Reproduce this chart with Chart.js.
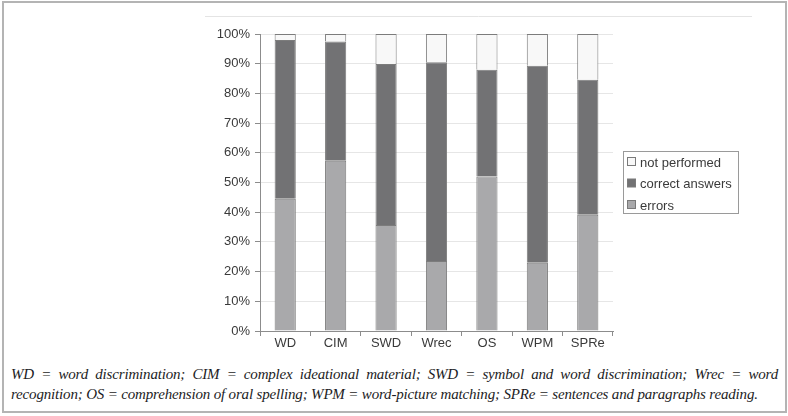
<!DOCTYPE html>
<html>
<head>
<meta charset="utf-8">
<script src="https://cdn.jsdelivr.net/npm/chart.js@4/dist/chart.umd.min.js"></script>
<style>
  html, body { margin: 0; padding: 0; background: #fff; }
  #wrap { position: relative; width: 788px; height: 416px; overflow: hidden; }
  #frame { position: absolute; left: 2px; top: 1px; width: 781px; height: 408px; border: 2px solid #b4b4b4; }
  #c { position: absolute; left: 0; top: 0; }
  #caption { position: absolute; left: 11px; top: 364px; width: 767px;
    font-family: 'Liberation Serif', 'Times New Roman', serif; font-style: italic;
    font-size: 15px; line-height: 20px; color: #1c1c24; letter-spacing: -0.17px; }
  #caption .l1 { text-align: justify; text-align-last: justify; }
  #caption .l2 { white-space: nowrap; }
</style>
</head>
<body>
<div id="wrap">
  <div id="frame"></div>
  <canvas id="c" width="788" height="350"></canvas>
  <div id="caption">
    <div class="l1">WD = word discrimination; CIM = complex ideational material; SWD = symbol and word discrimination; Wrec = word</div>
    <div class="l2">recognition; OS = comprehension of oral spelling; WPM = word-picture matching; SPRe = sentences and paragraphs reading.</div>
  </div>
</div>
<script>
var labels       = ['WD', 'CIM', 'SWD', 'Wrec', 'OS', 'WPM', 'SPRe'];
var errors       = [44.5, 57.3, 35.7, 23.6, 52.0, 23.0, 39.1];
var correct      = [53.5, 40.2, 54.2, 66.9, 36.0, 66.3, 45.5];
var notPerformed = [2.0, 2.5, 10.1, 9.5, 12.0, 10.7, 15.4];

var font = { family: "'Liberation Sans', Arial, sans-serif", size: 13 };

// legend drawn by hand, Excel style box at the right
var boxLegend = {
    id: 'boxLegend',
    afterDraw: function (chart) {
        var ctx = chart.ctx;
        var x = 623, y = 151, w = 115, h = 62;
        ctx.save();
        // faint top frame line of the old plot
        ctx.strokeStyle = '#e4e4e4';
        ctx.lineWidth = 1;
        ctx.beginPath();
        ctx.moveTo(205, 16.5);
        ctx.lineTo(752, 16.5);
        ctx.stroke();

        ctx.strokeStyle = '#9a9a9a';
        ctx.strokeRect(x + 0.5, y + 0.5, w, h);
        ctx.font = "13px 'Liberation Sans', Arial, sans-serif";
        ctx.textBaseline = 'middle';
        var ds = chart.data.datasets.slice().reverse();
        for (var i = 0; i < ds.length; i++) {
            var cy = y + 11 + i * 21.5;
            ctx.fillStyle = ds[i].backgroundColor;
            ctx.fillRect(x + 4.5, cy - 4.5, 8, 8);
            ctx.strokeStyle = '#7a7a7a';
            ctx.strokeRect(x + 4.5, cy - 4.5, 8, 8);
            ctx.fillStyle = '#3a3a3a';
            ctx.fillText(ds[i].label, x + 17, cy + 1);
        }
        ctx.restore();
    }
};

new Chart(document.getElementById('c'), {
    type: 'bar',
    data: {
        labels: labels,
        datasets: [
            { label: 'errors', data: errors, backgroundColor: '#a9a9ab' },
            { label: 'correct answers', data: correct, backgroundColor: '#727274' },
            { label: 'not performed', data: notPerformed, backgroundColor: '#f8f8f8' }
        ].map(function (d) {
            d.borderColor = '#7c7c7c';
            d.borderWidth = 1;
            d.categoryPercentage = 1;
            d.barPercentage = 0.42;
            return d;
        })
    },
    options: {
        responsive: false,
        animation: false,
        layout: { padding: { left: 200, top: 34, right: 175, bottom: 0 } },
        plugins: {
            legend: { display: false },
            tooltip: { enabled: false }
        },
        scales: {
            x: {
                stacked: true,
                afterFit: function (s) { s.height = 19; },
                grid: { drawOnChartArea: false, tickLength: 5, color: '#8c8c8c' },
                border: { color: '#8c8c8c' },
                ticks: { font: font, color: '#3a3a3a', padding: 0 }
            },
            y: {
                stacked: true,
                min: 0,
                max: 100,
                afterFit: function (s) { s.width = 60; },
                grid: { color: '#e6e6e6', tickColor: '#8c8c8c', tickLength: 5 },
                border: { color: '#8c8c8c' },
                ticks: {
                    stepSize: 10,
                    font: font,
                    color: '#3a3a3a',
                    padding: 5,
                    callback: function (v) { return v + '%'; }
                }
            }
        }
    },
    plugins: [boxLegend]
});
</script>
</body>
</html>
